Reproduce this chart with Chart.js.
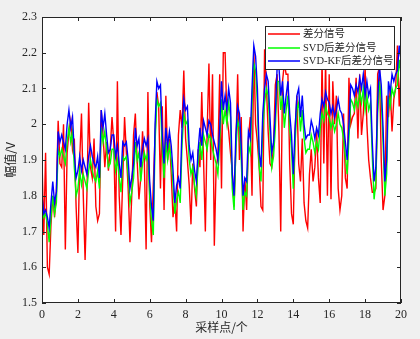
<!DOCTYPE html>
<html>
<head>
<meta charset="utf-8">
<script src="https://cdn.jsdelivr.net/npm/chart.js@4/dist/chart.umd.min.js"></script>
<style>
  html, body { margin: 0; padding: 0; background: #f0f0f0; }
  #myChart { display: block; }
</style>
</head>
<body>
<canvas id="myChart" width="420" height="339"></canvas>
<script>
// sample step along the x axis (sampling points 0..20)
const sampleStep = 0.1;

const seriesNames = ['差分信号', 'SVD后差分信号', 'SVD-KF后差分信号'];
const seriesColors = ['#ff0000', '#00ff00', '#0000ff'];

const rawSignal = [
  1.90,1.69,1.92,1.60,1.58,1.72,1.80,1.74,1.81,2.01,
  1.89,1.88,2.00,1.65,1.92,1.98,2.01,1.93,1.96,1.77,
  1.64,1.90,2.03,1.80,1.62,1.80,2.06,1.88,1.85,1.96,
  1.77,1.73,1.75,2.04,1.97,1.88,1.95,1.87,1.93,2.02,
  1.95,1.70,2.12,1.80,1.69,1.85,2.02,1.92,1.82,1.67,
  1.80,1.97,2.03,1.90,1.79,1.85,1.98,1.90,1.65,2.09,
  1.78,1.67,1.83,1.97,2.09,2.05,1.82,2.05,1.76,2.08,
  1.90,1.96,1.86,1.74,1.79,1.70,1.97,2.04,1.99,2.15,
  1.96,1.90,1.83,1.72,1.89,1.82,1.77,1.93,1.88,2.09,
  1.90,1.70,1.98,2.17,1.90,2.14,1.66,1.88,1.91,2.14,
  1.82,2.20,2.20,2.02,1.98,1.92,1.87,1.77,1.93,2.14,
  1.90,2.02,1.70,1.85,1.76,1.96,2.02,1.80,2.21,2.00,
  1.95,1.88,1.77,1.76,2.21,2.11,1.98,1.89,1.88,1.94,
  2.11,2.14,1.98,1.70,2.12,2.17,2.14,2.14,1.89,1.75,
  1.72,1.98,2.08,1.89,1.84,1.96,1.78,1.73,1.71,1.86,
  1.93,1.84,1.88,1.98,1.85,1.78,2.18,1.89,2.18,1.80,
  2.14,1.79,2.12,2.00,2.08,1.82,1.76,1.80,2.03,1.85,
  1.82,2.13,2.00,2.02,2.03,2.13,1.96,2.14,1.97,2.03,
  2.16,2.00,1.90,1.85,1.81,1.81,1.82,2.14,2.16,1.90,
  1.76,1.80,2.08,2.02,2.10,1.98,2.07,2.10,2.22,2.05,
  2.15
];

const svdSignal = [
  1.78,1.74,1.75,1.72,1.67,1.74,1.80,1.75,1.78,1.93,
  1.91,1.93,1.91,1.89,1.95,1.99,1.95,1.98,1.88,1.80,
  1.82,1.87,1.83,1.86,1.84,1.82,1.87,1.90,1.87,1.85,
  1.84,1.87,1.82,1.99,1.95,1.98,1.93,1.88,1.89,1.93,
  1.93,1.87,1.90,1.85,1.81,1.91,1.90,1.91,1.86,1.78,
  1.81,1.85,1.95,1.90,1.92,1.84,1.89,1.92,1.90,1.92,
  1.80,1.73,1.69,1.95,2.07,2.05,2.06,1.93,1.85,1.95,
  1.90,1.94,1.90,1.83,1.75,1.79,1.81,1.78,1.94,2.03,
  2.00,2.01,1.90,1.86,1.88,1.83,1.80,1.89,1.95,1.90,
  1.97,1.95,1.93,1.97,1.96,1.93,1.91,1.89,1.86,1.95,
  2.07,2.00,2.04,2.00,2.06,2.02,1.82,1.76,1.93,2.01,
  1.99,1.90,1.76,1.81,1.80,1.94,1.92,2.06,2.17,2.15,
  2.06,1.88,1.84,1.99,2.06,2.10,2.08,1.98,1.88,1.91,
  1.99,2.12,2.12,2.04,2.08,1.99,2.04,2.08,1.99,1.93,
  1.82,1.95,2.04,2.06,1.98,2.04,1.96,1.92,1.93,1.93,
  1.97,1.95,1.92,1.95,1.93,1.99,2.03,2.01,2.05,2.03,
  2.02,1.99,2.01,1.98,2.00,2.03,2.00,1.99,1.96,1.91,
  1.86,1.96,2.07,2.06,2.04,2.07,2.05,2.09,2.06,2.10,
  2.04,2.08,2.04,2.06,1.91,1.79,1.84,2.03,2.12,2.07,
  1.95,1.80,1.86,2.08,2.05,2.10,2.08,2.10,2.11,2.18,
  2.14
];

const svdKfSignal = [
  1.80,1.75,1.76,1.74,1.71,1.78,1.84,1.78,1.81,1.98,
  1.95,1.97,1.95,1.93,2.00,2.04,1.99,2.02,1.92,1.85,
  1.87,1.91,1.87,1.90,1.88,1.86,1.91,1.94,1.91,1.89,
  1.88,1.91,1.85,2.04,1.99,2.03,1.97,1.92,1.93,1.97,
  1.97,1.91,1.94,1.89,1.85,1.95,1.94,1.95,1.90,1.82,
  1.85,1.89,1.99,1.94,1.96,1.88,1.93,1.96,1.94,1.96,
  1.84,1.77,1.73,2.00,2.12,2.10,2.11,1.97,1.89,1.99,
  1.94,1.98,1.94,1.87,1.78,1.83,1.85,1.82,1.99,2.07,
  2.04,2.05,1.94,1.90,1.92,1.87,1.84,1.93,1.99,1.94,
  2.01,1.99,1.97,2.01,2.00,1.97,1.95,1.93,1.90,1.99,
  2.12,2.04,2.08,2.04,2.10,2.06,1.86,1.80,1.97,2.05,
  2.03,1.94,1.80,1.85,1.84,1.98,1.96,2.10,2.22,2.19,
  2.10,1.92,1.88,2.03,2.10,2.14,2.12,2.02,1.92,1.95,
  2.03,2.16,2.16,2.08,2.12,2.03,2.08,2.12,2.03,1.97,
  1.86,1.99,2.08,2.10,2.02,2.08,2.00,1.96,1.97,1.97,
  2.01,1.99,1.96,1.99,1.97,2.03,2.07,2.05,2.09,2.07,
  2.06,2.03,2.05,2.02,2.04,2.07,2.04,2.03,2.00,1.95,
  1.90,2.00,2.11,2.10,2.08,2.11,2.09,2.13,2.10,2.14,
  2.08,2.12,2.08,2.10,1.95,1.84,1.88,2.07,2.16,2.11,
  1.99,1.84,1.90,2.12,2.09,2.14,2.12,2.14,2.15,2.22,
  2.18
];

const xTickLabels = ['0', '2', '4', '6', '8', '10', '12', '14', '16', '18', '20'];
const yTickLabels = ['1.5', '1.6', '1.7', '1.8', '1.9', '2', '2.1', '2.2', '2.3'];
const xTitle = '采样点/个';
const yTitle = '幅值/V';

const axisColor = '#262626';
const tickFont = { family: "'Liberation Serif', 'Noto Sans CJK SC', serif", size: 12 };

function toPoints(values) {
  return values.map((v, i) => ({ x: i * sampleStep, y: v }));
}

// white plot area + box, inward ticks, axis titles, legend
const matlabAxes = {
  id: 'matlabAxes',
  beforeDraw(chart) {
    const { ctx, chartArea: a } = chart;
    ctx.save();
    ctx.fillStyle = '#ffffff';
    ctx.fillRect(a.left, a.top, a.right - a.left, a.bottom - a.top);
    ctx.restore();
  },
  afterDraw(chart) {
    const { ctx, chartArea: a, scales } = chart;
    const xs = scales.x, ys = scales.y;
    ctx.save();
    ctx.strokeStyle = axisColor;
    ctx.lineWidth = 1;
    ctx.strokeRect(a.left + 0.5, a.top + 0.5, a.right - a.left - 1, a.bottom - a.top - 1);
    const len = 4;
    ctx.beginPath();
    xTickLabels.forEach(t => {
      const px = Math.round(xs.getPixelForValue(parseFloat(t))) + 0.5;
      ctx.moveTo(px, a.bottom); ctx.lineTo(px, a.bottom - len);
      ctx.moveTo(px, a.top); ctx.lineTo(px, a.top + len);
    });
    yTickLabels.forEach(t => {
      const py = Math.round(ys.getPixelForValue(parseFloat(t))) + 0.5;
      ctx.moveTo(a.left, py); ctx.lineTo(a.left + len, py);
      ctx.moveTo(a.right, py); ctx.lineTo(a.right - len, py);
    });
    ctx.stroke();

    // axis titles
    ctx.fillStyle = axisColor;
    ctx.font = "12px 'Noto Sans CJK SC', sans-serif";
    ctx.textAlign = 'center';
    ctx.textBaseline = 'middle';
    ctx.fillText(xTitle, (a.left + a.right) / 2, 327);
    ctx.save();
    ctx.translate(10, (a.top + a.bottom) / 2);
    ctx.rotate(-Math.PI / 2);
    ctx.fillText(yTitle, 0, 0);
    ctx.restore();

    // legend box
    const bx = 265, by = 26, bw = 129, bh = 43;
    ctx.fillStyle = '#ffffff';
    ctx.fillRect(bx, by, bw, bh);
    ctx.strokeStyle = '#262626';
    ctx.strokeRect(bx + 0.5, by + 0.5, bw, bh);
    ctx.textAlign = 'left';
    ctx.font = "10.5px 'Liberation Serif', 'Noto Sans CJK SC', serif";
    const rows = [34, 48, 61];
    seriesNames.forEach((name, i) => {
      ctx.strokeStyle = seriesColors[i];
      ctx.lineWidth = 1.5;
      ctx.beginPath();
      ctx.moveTo(268, rows[i]); ctx.lineTo(300, rows[i]);
      ctx.stroke();
      ctx.fillStyle = axisColor;
      ctx.fillText(name, 303, rows[i]);
    });
    ctx.restore();
  }
};

const ctx = document.getElementById('myChart').getContext('2d');
const myChart = new Chart(ctx, {
  type: 'line',
  data: {
    datasets: [
      { label: seriesNames[0], data: toPoints(rawSignal), borderColor: seriesColors[0], borderWidth: 1.4, order: 3 },
      { label: seriesNames[1], data: toPoints(svdSignal), borderColor: seriesColors[1], borderWidth: 1.4, order: 2 },
      { label: seriesNames[2], data: toPoints(svdKfSignal), borderColor: seriesColors[2], borderWidth: 1.4, order: 1 }
    ]
  },
  options: {
    responsive: false,
    animation: false,
    devicePixelRatio: 1,
    elements: { point: { radius: 0 }, line: { tension: 0 } },
    layout: { padding: { top: 17, right: 19, left: 0, bottom: 0 } },
    plugins: { legend: { display: false }, tooltip: { enabled: false } },
    scales: {
      x: {
        type: 'linear', min: 0, max: 20,
        grid: { display: false, drawTicks: false, tickLength: 0 },
        border: { display: false },
        ticks: {
          stepSize: 2, color: axisColor, font: tickFont, padding: 5, maxRotation: 0,
          callback: (v) => xTickLabels[Math.round(v / 2)]
        },
        afterFit: (s) => { s.height = 36; }
      },
      y: {
        type: 'linear', min: 1.5, max: 2.3,
        grid: { display: false, drawTicks: false, tickLength: 0 },
        border: { display: false },
        ticks: {
          stepSize: 0.1, color: axisColor, font: tickFont, padding: 5,
          callback: (v) => yTickLabels[Math.round((v - 1.5) * 10)]
        },
        afterFit: (s) => { s.width = 42; }
      }
    }
  },
  plugins: [matlabAxes]
});
</script>
</body>
</html>
